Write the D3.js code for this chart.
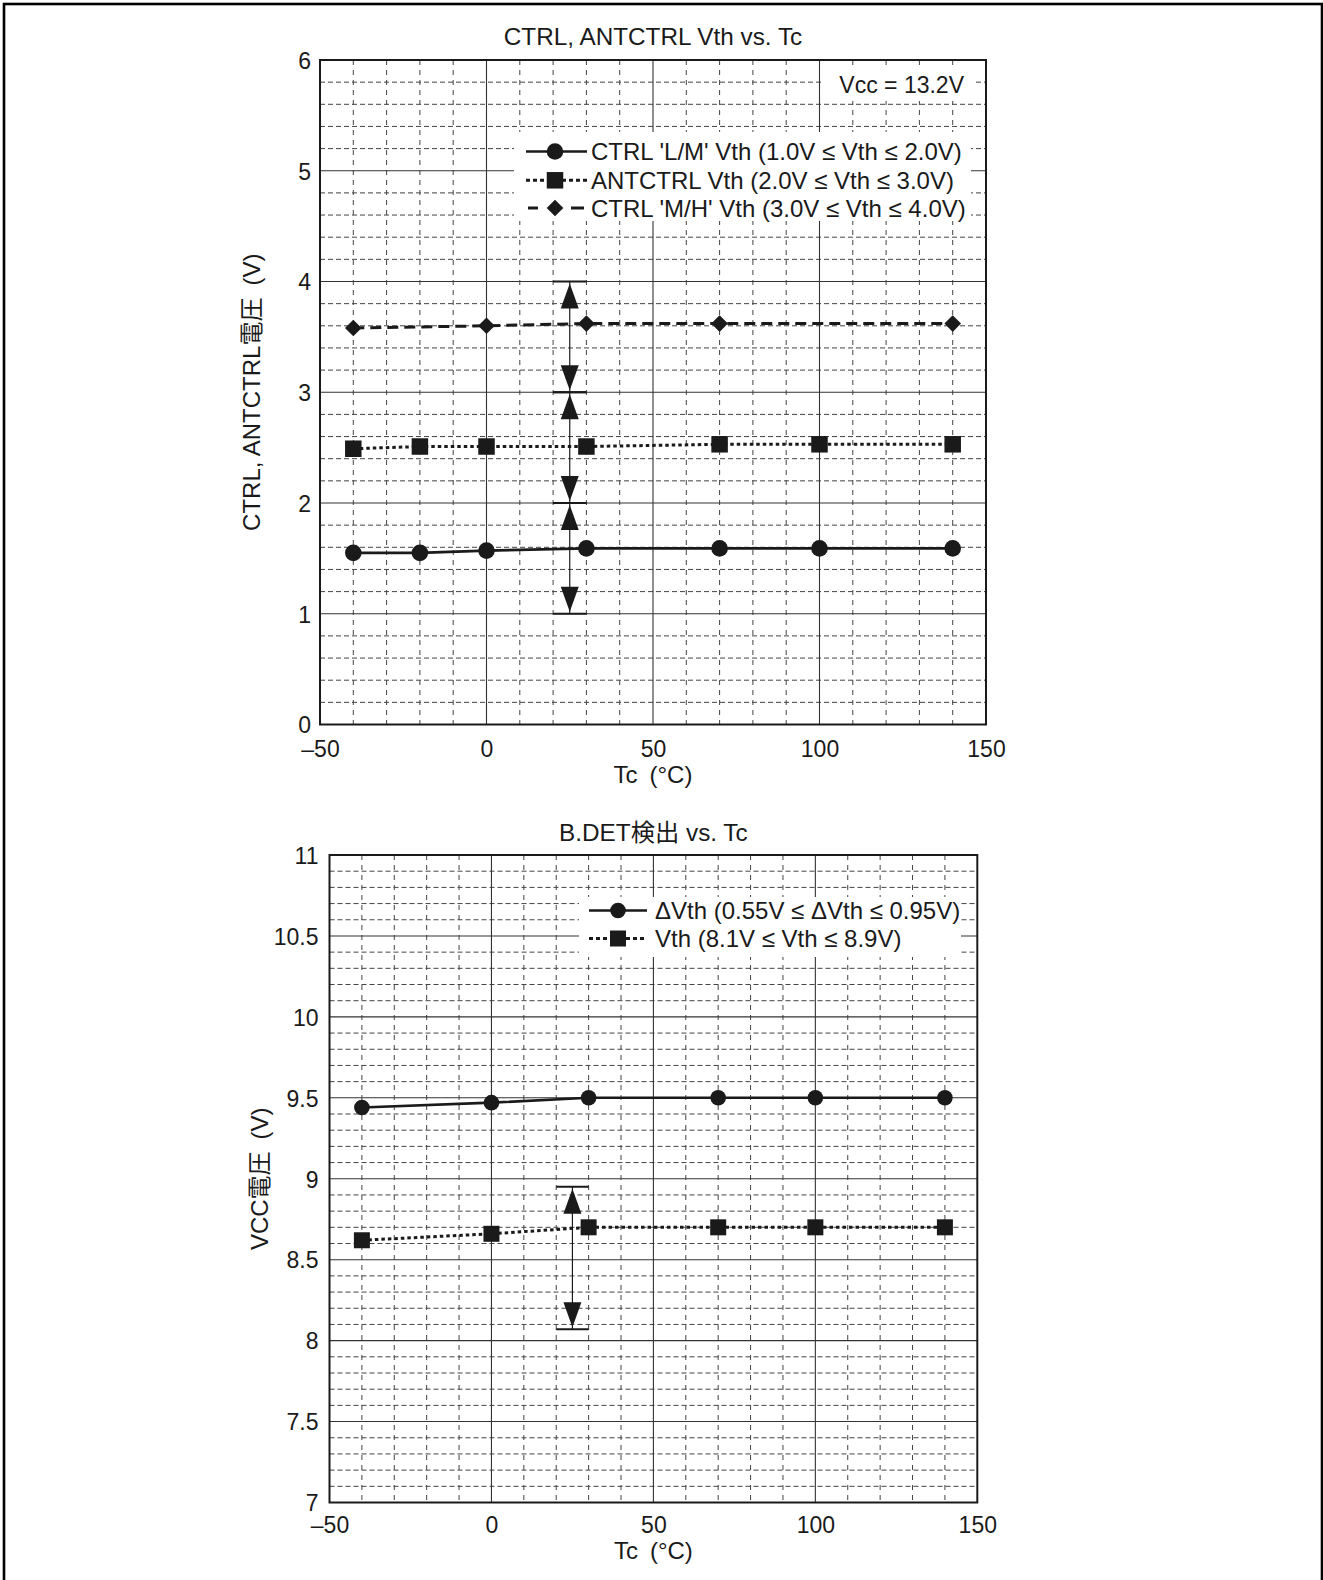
<!DOCTYPE html>
<html><head><meta charset="utf-8">
<script src="https://cdn.jsdelivr.net/npm/d3@7"></script>
<style>body{margin:0;background:#fff} svg{display:block}</style>
</head><body>
<script>
// ---------- data ----------
const xTicks = [-50, 0, 50, 100, 150];
const topYTicks = [0, 1, 2, 3, 4, 5, 6];
const botYTicks = [7, 7.5, 8, 8.5, 9, 9.5, 10, 10.5, 11];

const tempsA = [-40, -20, 0, 30, 70, 100, 140];
const ctrlLM = [1.55, 1.55, 1.57, 1.59, 1.59, 1.59, 1.59];
const antctrl = [2.49, 2.51, 2.51, 2.51, 2.53, 2.53, 2.53];
const tempsMH = [-40, 0, 30, 70, 140];
const ctrlMH = [3.58, 3.60, 3.62, 3.62, 3.62];

const tempsB = [-40, 0, 30, 70, 100, 140];
const dVth = [9.44, 9.47, 9.50, 9.50, 9.50, 9.50];
const vth = [8.62, 8.66, 8.70, 8.70, 8.70, 8.70];

const specTemp = 25;
const specTopRanges = [[1, 2], [2, 3], [3, 4]];
const specBotRanges = [[8.07, 8.95]];

const topTitle = "CTRL, ANTCTRL Vth vs. Tc";
const botTitle = "B.DET検出 vs. Tc";
const topYLabel = "CTRL, ANTCTRL電圧\u2002(V)";
const botYLabel = "VCC電圧\u2002(V)";
const xLabel = "Tc\u2002(°C)";
const topNote = "Vcc = 13.2V";
const topLegend = ["CTRL 'L/M' Vth (1.0V ≤ Vth ≤ 2.0V)", "ANTCTRL Vth (2.0V ≤ Vth ≤ 3.0V)", "CTRL 'M/H' Vth (3.0V ≤ Vth ≤ 4.0V)"];
const botLegend = ["ΔVth (0.55V ≤ ΔVth ≤ 0.95V)", "Vth (8.1V ≤ Vth ≤ 8.9V)"];

// ---------- drawing ----------
const FONT = "'Liberation Sans', Arial, 'Noto Sans CJK JP', sans-serif";
const FS = 23, FS_TITLE = 24.3, FS_LEG = 24, FS_LAB = 24;
const INK = "#1a1a1a";

const svg = d3.select("body").append("svg").attr("width", 1323).attr("height", 1580);
svg.append("rect").attr("x", 4).attr("y", 4).attr("width", 1318).attr("height", 1620)
  .attr("fill", "none").attr("stroke", "#000").attr("stroke-width", 2.6);

function fmt(d) { return d < 0 ? "–" + Math.abs(d) : String(d); }

function circleMark(g, x, y, r) { g.append("circle").attr("cx", x).attr("cy", y).attr("r", r).attr("fill", INK); }
function squareMark(g, x, y, s) { g.append("rect").attr("x", x - s / 2).attr("y", y - s / 2).attr("width", s).attr("height", s).attr("fill", INK); }
function diamondMark(g, x, y, s) {
  g.append("path").attr("d", `M${x},${y - s}L${x + s},${y}L${x},${y + s}L${x - s},${y}Z`).attr("fill", INK);
}

function drawChart(cfg) {
  const x = d3.scaleLinear().domain([-50, 150]).range([cfg.left, cfg.right]);
  const y = d3.scaleLinear().domain(cfg.yDomain).range([cfg.bottom, cfg.top]);
  const g = svg.append("g");

  // minor grid
  const vMinor = d3.range(-40, 150, 10).filter(v => v % 50 !== 0);
  g.selectAll(".vmin").data(vMinor).enter().append("line")
    .attr("x1", d => x(d)).attr("x2", d => x(d)).attr("y1", cfg.top).attr("y2", cfg.bottom)
    .attr("stroke", "#444").attr("stroke-width", 1).attr("stroke-dasharray", "5,5");
  g.selectAll(".hmin").data(cfg.hMinor).enter().append("line")
    .attr("x1", cfg.left).attr("x2", cfg.right).attr("y1", d => y(d)).attr("y2", d => y(d))
    .attr("stroke", "#444").attr("stroke-width", 1).attr("stroke-dasharray", "5,3");
  // major grid
  g.selectAll(".vmaj").data(xTicks.slice(1, -1)).enter().append("line")
    .attr("x1", d => x(d)).attr("x2", d => x(d)).attr("y1", cfg.top).attr("y2", cfg.bottom)
    .attr("stroke", "#333").attr("stroke-width", 1.1);
  g.selectAll(".hmaj").data(cfg.yTicks.slice(1, -1)).enter().append("line")
    .attr("x1", cfg.left).attr("x2", cfg.right).attr("y1", d => y(d)).attr("y2", d => y(d))
    .attr("stroke", "#333").attr("stroke-width", 1.1);

  // white boxes behind legend / notes
  cfg.boxes.forEach(b => g.append("rect").attr("x", b[0]).attr("y", b[1]).attr("width", b[2] - b[0]).attr("height", b[3] - b[1]).attr("fill", "#fff"));

  // frame
  g.append("rect").attr("x", cfg.left).attr("y", cfg.top).attr("width", cfg.right - cfg.left).attr("height", cfg.bottom - cfg.top)
    .attr("fill", "none").attr("stroke", INK).attr("stroke-width", 2);

  // axes (labels only)
  const ax = g.append("g").attr("transform", `translate(0,${cfg.bottom})`)
    .call(d3.axisBottom(x).tickValues(xTicks).tickSize(0).tickPadding(cfg.xPad).tickFormat(fmt));
  ax.select(".domain").remove();
  ax.selectAll("text").attr("font-size", FS).attr("font-family", FONT).attr("fill", INK);
  const ay = g.append("g").attr("transform", `translate(${cfg.left},0)`)
    .call(d3.axisLeft(y).tickValues(cfg.yTicks).tickSize(0).tickPadding(cfg.yPad).tickFormat(fmt));
  ay.select(".domain").remove();
  ay.selectAll("text").attr("font-size", FS).attr("font-family", FONT).attr("fill", INK).attr("dy", "0.36em");

  const cx = (cfg.left + cfg.right) / 2;
  g.append("text").attr("x", cx).attr("y", cfg.titleY).attr("text-anchor", "middle")
    .attr("font-size", FS_TITLE).attr("font-family", FONT).attr("fill", INK).text(cfg.title);
  g.append("text").attr("x", cx).attr("y", cfg.xLabelY).attr("text-anchor", "middle")
    .attr("font-size", FS_LAB).attr("font-family", FONT).attr("fill", INK).text(xLabel);
  g.append("text").attr("transform", `translate(${cfg.yLabelX},${(cfg.top + cfg.bottom) / 2}) rotate(-90)`)
    .attr("text-anchor", "middle").attr("font-size", FS_LAB).attr("font-family", FONT).attr("fill", INK).text(cfg.yLabel);

  // series
  cfg.series.forEach(s => {
    const pts = s.t.map((t, i) => [x(t), y(s.v[i])]);
    g.append("path").attr("d", d3.line()(pts)).attr("fill", "none").attr("stroke", INK)
      .attr("stroke-width", s.w).attr("stroke-dasharray", s.dash || null);
    pts.forEach(p => s.mark(g, p[0], p[1], s.size));
  });

  // spec range arrows
  const sx = x(specTemp), c1 = x(specTemp - 5), c2 = x(specTemp + 5);
  cfg.spec.forEach(r => {
    const yl = y(r[0]), yh = y(r[1]);
    g.append("line").attr("x1", sx).attr("x2", sx).attr("y1", yh).attr("y2", yl).attr("stroke", INK).attr("stroke-width", 1.2);
    [yl, yh].forEach(yy => g.append("line").attr("x1", c1).attr("x2", c2).attr("y1", yy).attr("y2", yy).attr("stroke", INK).attr("stroke-width", 2));
    g.append("path").attr("d", `M${sx},${yh + 2}L${sx + 9},${yh + 27}L${sx - 9},${yh + 27}Z`).attr("fill", INK);
    g.append("path").attr("d", `M${sx},${yl - 2}L${sx + 9},${yl - 27}L${sx - 9},${yl - 27}Z`).attr("fill", INK);
  });

  // legend
  cfg.legend.forEach((L, i) => {
    const ly = cfg.legY[i];
    const s = cfg.series[i];
    L.segs.forEach(sg => g.append("line").attr("x1", sg[0]).attr("x2", sg[1]).attr("y1", ly).attr("y2", ly)
      .attr("stroke", INK).attr("stroke-width", s.w).attr("stroke-dasharray", sg[2] || null));
    s.mark(g, cfg.legMarkX, ly, s.size);
    g.append("text").attr("x", cfg.legTextX).attr("y", ly + 8.5).attr("font-size", FS_LEG).attr("font-family", FONT)
      .attr("fill", INK).text(L.label);
  });
  return { x, y, g };
}

const chartTop = drawChart({
  left: 320, right: 986, top: 60, bottom: 724.5, yDomain: [0, 6], yTicks: topYTicks,
  hMinor: d3.range(1, 30).filter(i => i % 5 !== 0).map(i => i / 5),
  xPad: 16, yPad: 9, titleY: 44.5, xLabelY: 782.5, yLabelX: 260, title: topTitle, yLabel: topYLabel,
  boxes: [[514, 132, 971, 221], [822, 68, 975, 101]],
  series: [
    { t: tempsA, v: ctrlLM, mark: circleMark, size: 8.3, w: 2.6 },
    { t: tempsA, v: antctrl, mark: squareMark, size: 16.5, w: 3, dash: "3.5,3" },
    { t: tempsMH, v: ctrlMH, mark: diamondMark, size: 8.3, w: 3, dash: "11,6" }
  ],
  spec: specTopRanges,
  legend: [
    { label: topLegend[0], segs: [[526, 587]] },
    { label: topLegend[1], segs: [[526, 545, "4,3"], [562, 587, "4,3"]] },
    { label: topLegend[2], segs: [[528, 538], [571, 584]] }
  ],
  legY: [151.5, 180.3, 208], legMarkX: 555, legTextX: 591
});
chartTop.g.append("text").attr("x", 964).attr("y", 84.6 + 8.2).attr("text-anchor", "end")
  .attr("font-size", FS).attr("font-family", FONT).attr("fill", INK).text(topNote);

const chartBottom = drawChart({
  left: 329.5, right: 977.3, top: 855, bottom: 1502.5, yDomain: [7, 11], yTicks: botYTicks,
  hMinor: d3.range(71, 110).filter(i => i % 5 !== 0).map(i => i / 10),
  xPad: 14, yPad: 11, titleY: 840.5, xLabelY: 1558.5, yLabelX: 268, title: botTitle, yLabel: botYLabel,
  boxes: [[579, 897, 961, 957]],
  series: [
    { t: tempsB, v: dVth, mark: circleMark, size: 7.8, w: 2.6 },
    { t: tempsB, v: vth, mark: squareMark, size: 16, w: 3, dash: "3.5,3" }
  ],
  spec: specBotRanges,
  legend: [
    { label: botLegend[0], segs: [[589, 647]] },
    { label: botLegend[1], segs: [[589, 608, "4,3"], [626, 647, "4,3"]] }
  ],
  legY: [910.5, 938.5], legMarkX: 618, legTextX: 655
});
</script>
</body></html>
